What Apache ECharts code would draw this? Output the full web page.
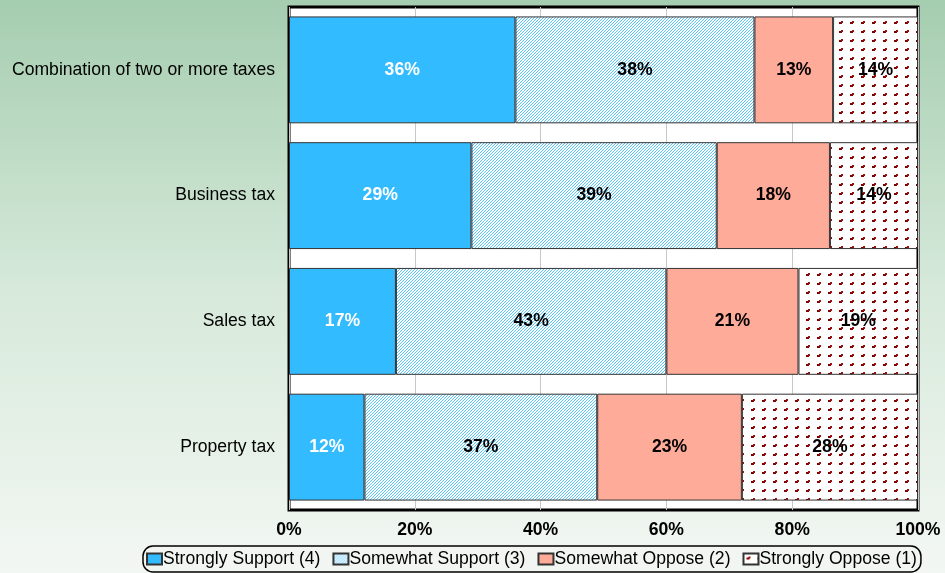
<!DOCTYPE html>
<html>
<head>
<meta charset="utf-8">
<script src="https://cdn.jsdelivr.net/npm/echarts@6/dist/echarts.min.js"></script>
<style>
html,body{margin:0;padding:0;}
#main{width:945px;height:573px;}
</style>
</head>
<body>
<div id="main"></div>
<script>
var categories=['Combination of two or more taxes','Business tax','Sales tax','Property tax'];
var seriesNames=['Strongly Support (4)','Somewhat Support (3)','Somewhat Oppose (2)','Strongly Oppose (1)'];
var stronglySupport=[36,29,17,12];
var somewhatSupport=[38,39,43,37];
var somewhatOppose=[12.5,18,21,23];
var stronglyOppose=[13.5,14,19,28];
var xTicks=[0,20,40,60,80,100];

function hatch() {                                   //斜线填充
    var c=document.createElement('canvas');
    c.width=3;c.height=3;
    var ctx=c.getContext('2d');
    ctx.fillStyle='#ffffff';
    ctx.fillRect(0,0,3,3);
    ctx.fillStyle='#55c6fb';
    ctx.fillRect(2,0,1,1);
    ctx.fillRect(1,1,1,1);
    ctx.fillRect(0,2,1,1);
    return c;
}
function dots() {                                    //点状填充
    var c=document.createElement('canvas');
    c.width=11;c.height=9;
    var ctx=c.getContext('2d');
    ctx.fillStyle='#ffffff';
    ctx.fillRect(0,0,11,9);
    ctx.fillStyle='#800000';
    ctx.fillRect(3,4,3,2);
    ctx.fillStyle='#9a1010';
    ctx.fillRect(5,3,2,2);
    return c;
}

var fills=['#33bbff',{image:hatch(),repeat:'repeat'},'#ffab99',{image:dots(),repeat:'repeat'}];
var values=[stronglySupport,somewhatSupport,somewhatOppose,stronglyOppose];

var series=[];
for (var i=0;i<4;i++){
    series.push({
        name:seriesNames[i],
        type:'bar',
        stack:'all',
        barCategoryGap:'15%',
        data:values[i],
        itemStyle:{color:fills[i],borderColor:'#333',borderWidth:1},
        label:{
            show:true,
            position:'inside',
            color:i==0?'#ffffff':'#000000',
            fontFamily:'Liberation Sans',
            fontSize:17.6,
            fontWeight:'bold',
            formatter:function (p) {return Math.round(p.value)+'%';}
        }
    });
}

var option={
    backgroundColor:{
        type:'linear',x:0,y:0,x2:0,y2:1,
        colorStops:[{offset:0,color:'#a5cdaf'},{offset:0.5,color:'#d6e9da'},{offset:1,color:'#f3f7f3'}]
    },
    animation:false,
    grid:{
        left:289,right:27,top:7,bottom:63,
        show:true,backgroundColor:'#ffffff',borderColor:'#000000',borderWidth:3
    },
    legend:{
        bottom:1,left:143,
        padding:[4,4,4,3],
        itemGap:12,itemWidth:15,itemHeight:11,
        icon:'rect',
        borderColor:'#000000',borderWidth:1.5,borderRadius:10,
        backgroundColor:'#f2f6f2',
        textStyle:{color:'#000',fontSize:17.6,fontFamily:'Liberation Sans',padding:[0,0,0,-4]},
        data:seriesNames
    },
    xAxis:{
        type:'value',min:0,max:100,interval:20,
        axisLine:{show:false},axisTick:{show:false},
        splitLine:{lineStyle:{color:'#c8c8c8',width:1}},
        axisLabel:{
            margin:11,color:'#000',fontSize:17.6,fontWeight:'bold',fontFamily:'Liberation Sans',
            formatter:function (v) {return xTicks.indexOf(v)>=0?v+'%':'';}
        }
    },
    yAxis:{
        type:'category',data:categories,inverse:true,
        axisLine:{show:false},axisTick:{show:false},
        axisLabel:{margin:14,color:'#000',fontSize:17.6,fontFamily:'Liberation Sans'}
    },
    series:series
};
var myChart=echarts.init(document.getElementById('main'));
myChart.setOption(option);
</script>
</body>
</html>
